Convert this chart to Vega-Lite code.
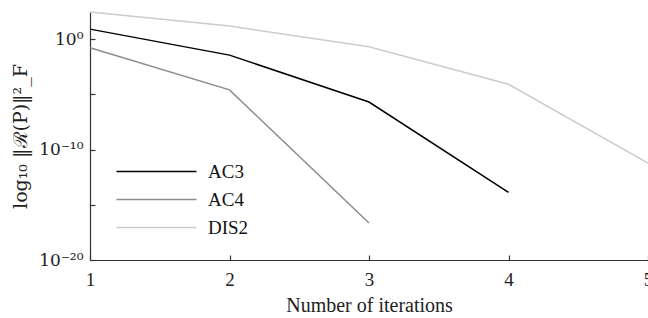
{
  "$schema": "https://vega.github.io/schema/vega-lite/v6.json",
  "width": 558,
  "height": 248,
  "autosize": {"type": "none"},
  "padding": {"left": 90, "top": 12, "right": 0, "bottom": 58},
  "background": "white",
  "config": {
    "view": {"stroke": null},
    "font": "Liberation Serif, Times New Roman, Times, serif",
    "axis": {"labelFont": "Liberation Serif, Times New Roman, Times, serif", "titleFont": "Liberation Serif, Times New Roman, Times, serif", "labelColor": "#222", "titleColor": "#222", "domainColor": "#333", "tickColor": "#333", "grid": false, "titleFontWeight": "normal"}
  },
  "data": {
    "values": [
      {"iter": 1, "method": "AC3", "r": 7.9},
      {"iter": 2, "method": "AC3", "r": 0.035},
      {"iter": 3, "method": "AC3", "r": 2e-6},
      {"iter": 4, "method": "AC3", "r": 1.3e-14},
      {"iter": 1, "method": "AC4", "r": 0.16},
      {"iter": 2, "method": "AC4", "r": 2.5e-5},
      {"iter": 3, "method": "AC4", "r": 2.2e-17},
      {"iter": 1, "method": "DIS2", "r": 275},
      {"iter": 2, "method": "DIS2", "r": 15},
      {"iter": 3, "method": "DIS2", "r": 0.2},
      {"iter": 4, "method": "DIS2", "r": 8e-5},
      {"iter": 5, "method": "DIS2", "r": 6e-12}
    ]
  },
  "mark": {"type": "line", "strokeWidth": 1.5, "clip": false},
  "encoding": {
    "x": {
      "field": "iter", "type": "quantitative",
      "scale": {"domain": [1, 5], "nice": false, "zero": false},
      "axis": {"values": [1, 2, 3, 4, 5], "format": "d", "title": "Number of iterations", "titleFontSize": 20, "labelFontSize": 19, "tickSize": -5, "labelPadding": 15, "titlePadding": 6, "labelFlush": false, "domainWidth": 1.2, "tickWidth": 1.2}
    },
    "y": {
      "field": "r", "type": "quantitative",
      "scale": {"type": "log", "domain": [1e-20, 280], "nice": false},
      "axis": {
        "values": [1e-20, 1e-15, 1e-10, 1e-5, 1],
        "labelExpr": "round(log(datum.value)/LN10) == 0 ? '10⁰' : round(log(datum.value)/LN10) == -10 ? '10⁻¹⁰' : round(log(datum.value)/LN10) == -20 ? '10⁻²⁰' : ''",
        "labelFont": "DejaVu Serif",
        "titleFont": "DejaVu Serif",
        "title": "log₁₀ ‖ℛ(P)‖²_F", "titleFontSize": 19, "labelFontSize": 17, "tickSize": -5, "labelPadding": 12, "titlePadding": 8, "labelFlush": false, "domainWidth": 1.2, "tickWidth": 1.2
      }
    },
    "color": {
      "field": "method", "type": "nominal",
      "scale": {"domain": ["AC3", "AC4", "DIS2"], "range": ["#000000", "#8c8c8c", "#cccccc"]},
      "legend": {"orient": "none", "legendX": 57, "legendY": 150, "title": null, "symbolType": "M-5,0H5", "symbolSize": 256, "symbolStrokeWidth": 1.5, "symbolFillColor": "transparent", "labelFontSize": 19, "labelFont": "Liberation Serif, Times New Roman, Times, serif", "labelColor": "#111", "rowPadding": 8, "labelOffset": 42}
    }
  }
}
